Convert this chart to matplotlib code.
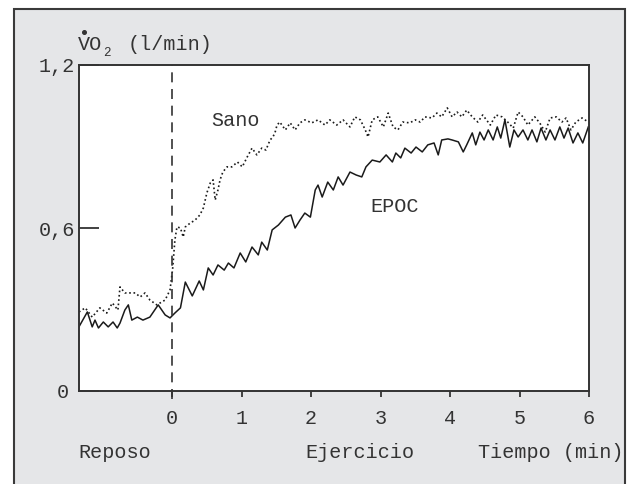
import matplotlib
matplotlib.use("Agg")
import matplotlib.pyplot as plt
from matplotlib.patches import Rectangle
from matplotlib.lines import Line2D

# EPOC trace (solid) - time in min, VO2 in l/min
epoc_t = [-1.35, -1.22, -1.15, -1.11, -1.06, -0.99, -0.92, -0.85, -0.79, -0.75,
          -0.68, -0.63, -0.58, -0.50, -0.42, -0.32, -0.20, -0.10, -0.03, 0.04,
          0.12, 0.19, 0.29, 0.39, 0.45, 0.52, 0.59, 0.66, 0.75, 0.81,
          0.89, 0.98, 1.06, 1.15, 1.24, 1.29, 1.37, 1.44, 1.53, 1.63,
          1.71, 1.77, 1.84, 1.91, 1.99, 2.06, 2.10, 2.16, 2.24, 2.32,
          2.39, 2.46, 2.56, 2.65, 2.73, 2.79, 2.88, 2.99, 3.08, 3.17,
          3.22, 3.29, 3.35, 3.44, 3.51, 3.60, 3.68, 3.77, 3.83, 3.88,
          3.97, 4.03, 4.12, 4.19, 4.24, 4.32, 4.37, 4.43, 4.49, 4.55,
          4.62, 4.68, 4.73, 4.79, 4.86, 4.92, 4.98, 5.05, 5.12, 5.18,
          5.25, 5.31, 5.38, 5.44, 5.51, 5.58, 5.64, 5.70, 5.77, 5.84,
          5.91, 5.99]
epoc_v = [0.232, 0.291, 0.236, 0.261, 0.232, 0.254, 0.236, 0.254, 0.232, 0.250,
          0.298, 0.317, 0.261, 0.272, 0.261, 0.272, 0.317, 0.280, 0.269, 0.287,
          0.306, 0.401, 0.350, 0.405, 0.372, 0.453, 0.427, 0.464, 0.445, 0.471,
          0.453, 0.508, 0.475, 0.530, 0.501, 0.548, 0.519, 0.593, 0.611, 0.640,
          0.648, 0.600, 0.629, 0.655, 0.640, 0.740, 0.758, 0.714, 0.769, 0.740,
          0.788, 0.758, 0.806, 0.795, 0.788, 0.825, 0.850, 0.843, 0.869, 0.843,
          0.876, 0.858, 0.894, 0.876, 0.898, 0.880, 0.906, 0.913, 0.869, 0.924,
          0.928, 0.924, 0.917, 0.880, 0.906, 0.950, 0.906, 0.953, 0.924, 0.961,
          0.924, 0.972, 0.931, 0.998, 0.898, 0.961, 0.935, 0.961, 0.924, 0.961,
          0.917, 0.968, 0.924, 0.961, 0.924, 0.972, 0.931, 0.968, 0.913, 0.950,
          0.913, 0.972]

# Sano trace (dotted)
sano_t = [-1.34, -1.25, -1.15, -1.04, -0.94, -0.86, -0.78, -0.75, -0.68, -0.53,
          -0.46, -0.39, -0.32, -0.22, -0.10, -0.03, 0.00, 0.01, 0.04, 0.07,
          0.12, 0.16, 0.19, 0.26, 0.33, 0.40, 0.45, 0.50, 0.55, 0.59,
          0.62, 0.66, 0.69, 0.73, 0.79, 0.86, 0.94, 1.01, 1.08, 1.15,
          1.22, 1.29, 1.35, 1.41, 1.45, 1.48, 1.51, 1.55, 1.63, 1.70,
          1.77, 1.84, 1.91, 2.01, 2.10, 2.20, 2.27, 2.37, 2.46, 2.56,
          2.63, 2.71, 2.78, 2.82, 2.88, 2.96, 3.04, 3.11, 3.18, 3.25,
          3.32, 3.42, 3.50, 3.57, 3.64, 3.74, 3.81, 3.88, 3.96, 4.03,
          4.10, 4.17, 4.24, 4.32, 4.40, 4.47, 4.58, 4.66, 4.75, 4.83,
          4.91, 4.98, 5.05, 5.12, 5.22, 5.29, 5.37, 5.44, 5.53, 5.61,
          5.67, 5.74, 5.81, 5.90, 5.99]
sano_v = [0.291, 0.306, 0.272, 0.306, 0.287, 0.324, 0.298, 0.383, 0.361, 0.361,
          0.346, 0.361, 0.335, 0.317, 0.335, 0.372, 0.434, 0.456, 0.556, 0.604,
          0.600, 0.567, 0.604, 0.618, 0.629, 0.648, 0.674, 0.729, 0.766, 0.777,
          0.703, 0.740, 0.777, 0.806, 0.825, 0.825, 0.843, 0.825, 0.861, 0.894,
          0.869, 0.894, 0.887, 0.924, 0.935, 0.950, 0.979, 0.990, 0.961, 0.987,
          0.961, 0.987, 0.998, 0.987, 0.998, 0.979, 0.998, 0.979, 0.998, 0.972,
          1.009, 0.998, 0.961, 0.935, 0.998, 1.009, 0.972, 1.023, 0.972, 0.961,
          0.990, 0.987, 0.998, 0.990, 1.009, 1.005, 1.023, 1.009, 1.042, 1.009,
          1.027, 1.009, 1.034, 1.009, 0.990, 1.016, 0.979, 1.016, 1.009, 0.990,
          0.968, 1.027, 1.009, 0.979, 1.009, 0.987, 0.953, 1.005, 1.009, 0.990,
          1.005, 0.961, 0.990, 1.005, 0.990]

x_ticks = [0, 1, 2, 3, 4, 5, 6]
y_ticks = [0, 0.6, 1.2]
y_ticklabels = ["", "0,6", "1,2"]

FONT = "Liberation Mono"
FS = 14.5
INK = "#333333"
W, H = 636, 484

fig = plt.figure(figsize=(W / 100, H / 100), dpi=100)
fig.patch.set_facecolor("white")

# grey panel behind everything
fig.patches.append(Rectangle((13.5 / W, -0.05), (625 - 13.5) / W, 1.05 - 9 / H,
                             transform=fig.transFigure, facecolor="#e5e6e8",
                             edgecolor="#3a3a3a", linewidth=1.5, zorder=-10))

ax = fig.add_axes([79 / W, 1 - 391 / H, (589 - 79) / W, (391 - 65) / H])
ax.set_facecolor("white")

ax.plot(epoc_t, epoc_v, color="#1a1a1a", linewidth=1.1, solid_joinstyle="round")
ax.plot(sano_t, sano_v, color="#1a1a1a", linewidth=1.2, linestyle=(0, (1, 1.6)))
ax.axvline(0, ymin=-0.025, ymax=1, color=INK, linewidth=1.2,
           linestyle=(0, (6, 4)), clip_on=False)

ax.set_xlim(-1.34, 6)
ax.set_ylim(0, 1.2)

for s in ax.spines.values():
    s.set_color(INK)
    s.set_linewidth(1.4)

ax.set_xticks(x_ticks)
ax.set_xticklabels([str(v) for v in x_ticks], family=FONT, fontsize=FS, color=INK)
ax.tick_params(axis="x", direction="out", length=4, width=1.3, color=INK, pad=9)
ax.set_yticks(y_ticks)
ax.set_yticklabels(y_ticklabels, family=FONT, fontsize=FS, color=INK)
ax.tick_params(axis="y", direction="in", length=14.5, width=1.3, color=INK, pad=3)

def ftext(x, y, s, **kw):
    kw.setdefault("family", FONT)
    kw.setdefault("fontsize", FS)
    kw.setdefault("color", INK)
    fig.text(x / W, 1 - y / H, s, **kw)

# y axis zero label sits apart from the others
ftext(63, 393, "0", ha="center", va="center")

# axis title with dot over V and subscript 2
ftext(78, 45, "VO", ha="left", va="center")
ftext(107, 53, "2", ha="center", va="center", fontsize=9)
ftext(128, 45, "(l/min)", ha="left", va="center")
fig.add_artist(Line2D([84 / W], [1 - 32 / H], marker="o", markersize=2.6,
                      color=INK, linestyle="none", transform=fig.transFigure))

# curve labels
ftext(236, 121, "Sano", ha="center", va="center")
ftext(395, 207, "EPOC", ha="center", va="center")

# bottom captions
ftext(78, 453, "Reposo", ha="left", va="center")
ftext(305, 453, "Ejercicio", ha="left", va="center")
ftext(624, 453, "Tiempo (min)", ha="right", va="center")

fig.savefig("out.png", dpi=100)
